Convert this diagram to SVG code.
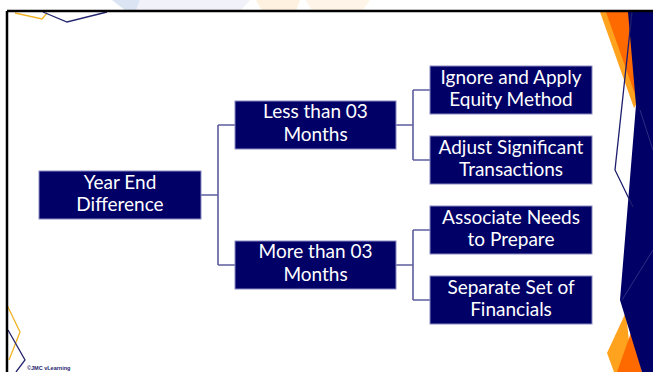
<svg xmlns="http://www.w3.org/2000/svg" width="653" height="372" viewBox="0 0 653 372">
  <defs>
    <style>
      .box { fill: #000066; stroke: #8a8ac4; stroke-width: 1; }
      .lbl { fill: #ffffff; font-family: Lato, "Open Sans", "Liberation Sans", sans-serif; font-size: 19px; text-anchor: middle; }
      .link { fill: none; stroke: #5d5d9e; stroke-width: 1.6; }
      .deco { fill: none; stroke-width: 1.3; }
    </style>
  </defs>

  <rect width="653" height="372" fill="#ffffff"/>

  <!-- faint shapes above the frame -->
  <g id="top-strip" opacity="0.35">
    <polygon points="112,0 140,0 136,11 126,11" fill="#9ab3dd"/>
    <polygon points="140,0 250,0 240,11 136,11" fill="#d6d8ee"/>
    <polygon points="256,0 300,0 296,11 262,11" fill="#ffd9a8"/>
    <polygon points="306,0 370,0 362,11 312,11" fill="#ffe2c0"/>
  </g>

  <!-- right-hand decoration -->
  <g id="right-deco">
    <polygon points="600,12 630,12 640,98 634,108" fill="#ffa21e"/>
    <polygon points="606,12 630,12 640,98 637,100" fill="#ff6a00"/>
    <polygon points="626,312 607,353 614,372 632,372" fill="#ffa21e"/>
    <polygon points="632,330 617,372 642,372" fill="#ff6a00"/>
    <polygon points="628,12 653,12 653,372 642,372 620,300 636,105" fill="#000066"/>
    <polyline points="632,12 615,170 633,207" class="deco" stroke="#1e1e6e"/>
    <polyline points="640,110 653,150" fill="none" stroke="#3a3a8a" stroke-width="0.8"/>
    <polyline points="622,300 653,250" fill="none" stroke="#3a3a8a" stroke-width="0.8"/>
  </g>

  <!-- corner chevrons -->
  <g id="corner-deco">
    <polyline points="15,13 42,19 47,13" class="deco" stroke="#f0b323"/>
    <polyline points="43,12 67,22 107,12" class="deco" stroke="#24246e"/>
    <polyline points="7,305 20,332 9,360" class="deco" stroke="#f0b323"/>
    <polyline points="8,330 25,360 16,372" class="deco" stroke="#24246e"/>
  </g>

  <!-- frame -->
  <g id="frame" fill="none" stroke="#000000" stroke-width="2.5">
    <line x1="7" y1="11" x2="653" y2="11"/>
    <line x1="7" y1="11" x2="7" y2="372"/>
  </g>

  <text x="27" y="370" font-family="'Liberation Sans', sans-serif" font-size="5.5" font-weight="bold" fill="#1e1e6e">©JMC vLearning</text>

  <!-- connectors -->
  <g id="connectors">
    <path class="link" d="M201,195 H218 M218,125 V265 M218,125 H235 M218,265 H235"/>
    <path class="link" d="M396,125 H413 M413,90 V160 M413,90 H430 M413,160 H430"/>
    <path class="link" d="M396,265 H413 M413,230 V300 M413,230 H430 M413,300 H430"/>
  </g>

  <g id="year-end">
    <rect class="box" x="39" y="171" width="162" height="48"/>
    <text class="lbl" x="120" y="189">Year End</text>
    <text class="lbl" x="120" y="210.5">Difference</text>
  </g>

  <g id="less-than">
    <rect class="box" x="235" y="101" width="161" height="48"/>
    <text class="lbl" x="315.5" y="118">Less than 03</text>
    <text class="lbl" x="315.5" y="140.5">Months</text>
  </g>

  <g id="more-than">
    <rect class="box" x="235" y="241" width="161" height="48"/>
    <text class="lbl" x="315.5" y="258">More than 03</text>
    <text class="lbl" x="315.5" y="280.5">Months</text>
  </g>

  <g id="ignore-apply">
    <rect class="box" x="430" y="66" width="162" height="48"/>
    <text class="lbl" x="511" y="84">Ignore and Apply</text>
    <text class="lbl" x="511" y="105.5">Equity Method</text>
  </g>

  <g id="adjust-significant">
    <rect class="box" x="430" y="136" width="162" height="48"/>
    <text class="lbl" x="511" y="154">Adjust Significant</text>
    <text class="lbl" x="511" y="175.5">Transactions</text>
  </g>

  <g id="associate-needs">
    <rect class="box" x="430" y="206" width="162" height="48"/>
    <text class="lbl" x="511" y="224">Associate Needs</text>
    <text class="lbl" x="511" y="245.5">to Prepare</text>
  </g>

  <g id="separate-set">
    <rect class="box" x="430" y="276" width="162" height="48"/>
    <text class="lbl" x="511" y="294">Separate Set of</text>
    <text class="lbl" x="511" y="315.5">Financials</text>
  </g>
</svg>
